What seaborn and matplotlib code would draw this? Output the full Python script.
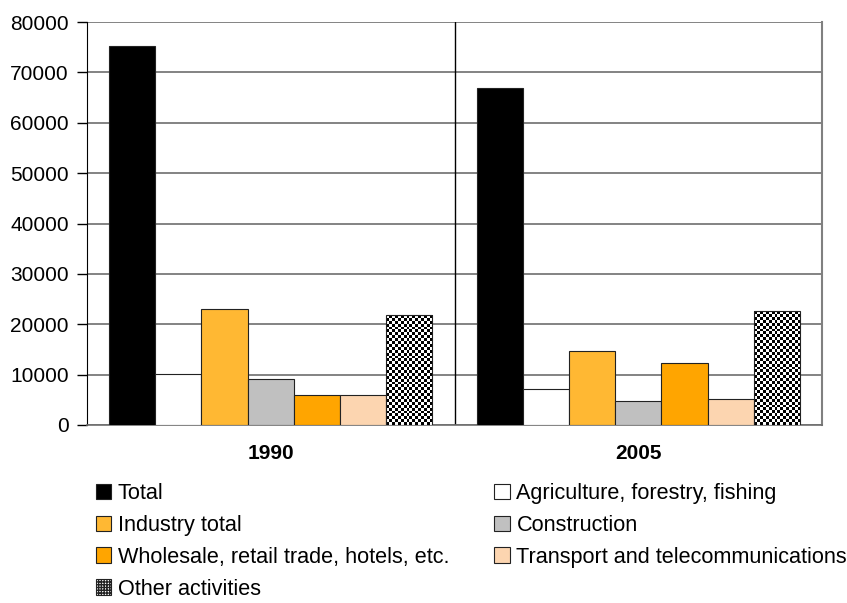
import numpy as np
import pandas as pd
import matplotlib
matplotlib.use("Agg")
import matplotlib.pyplot as plt
import seaborn as sns
from matplotlib.patches import Patch

years = ["1990", "2005"]
series = ["Total", "Agriculture, forestry, fishing", "Industry total", "Construction",
          "Wholesale, retail trade, hotels, etc.", "Transport and telecommunications",
          "Other activities"]
values_1990 = [75200, 10100, 22960, 9130, 5950, 5900, 21760]
values_2005 = [66900, 7200, 14680, 4820, 12360, 5220, 22560]
colors = ["#000000", "#ffffff", "#ffb833", "#c0c0c0", "#ffa500", "#fcd5b0", "#ffffff"]
y_ticks = [0, 10000, 20000, 30000, 40000, 50000, 60000, 70000, 80000]

df = pd.DataFrame({
    "year": years[0:1] * len(series) + years[1:2] * len(series),
    "series": series + series,
    "value": values_1990 + values_2005,
})

sns.set_style("white")
plt.rcParams["font.family"] = ["Liberation Sans", "DejaVu Sans"]
plt.rcParams["text.color"] = "black"
plt.rcParams["xtick.color"] = "black"
plt.rcParams["ytick.color"] = "black"

fig = plt.figure(figsize=(8.47, 6.03), dpi=100)
ax = fig.add_axes([0.1027, 0.2952, 0.9705 - 0.1027, 0.9635 - 0.2952])

sns.barplot(data=df, x="year", y="value", hue="series", hue_order=series,
            palette=dict(zip(series, colors)), saturation=1, width=0.88, gap=0,
            dodge=True, edgecolor="#222222", linewidth=0.8, legend=False, ax=ax,
            zorder=3)

ax.set_xlim(-0.5, 1.5)
ax.set_ylim(0, 80000)
ax.set_yticks(y_ticks)
ax.set_yticklabels([str(t) for t in y_ticks], fontsize=15)
ax.set_xticks([0, 1])
ax.set_xticklabels(years, fontsize=15, fontweight="bold")
ax.tick_params(axis="x", which="major", length=0, pad=14)
ax.set_xticks([-0.5, 0.5, 1.5], minor=True)
ax.tick_params(axis="x", which="minor", length=8, width=1, color="black", direction="out")
ax.tick_params(axis="y", length=7, width=1, color="black", direction="out", left=True, pad=6)
ax.set_xlabel("")
ax.set_ylabel("")
ax.yaxis.grid(True, color="#6e6e6e", linewidth=1.2, zorder=0)
ax.set_axisbelow(True)
ax.axvline(0.5, color="black", linewidth=1, zorder=2)
ax.spines["top"].set_visible(False)
ax.spines["left"].set_color("black")
ax.spines["bottom"].set_color("#6e6e6e")
ax.spines["bottom"].set_linewidth(1.2)
ax.spines["right"].set_color("#808080")
ax.spines["right"].set_linewidth(1.5)

# checkered fill for "Other activities"
other = ax.containers[-1]
fig.canvas.draw()
for p in other.patches:
    x0, y0 = p.get_x(), p.get_y()
    w, h = p.get_width(), p.get_height()
    (px0, py0), (px1, py1) = ax.transData.transform([(x0, y0), (x0 + w, y0 + h)])
    nc = max(1, int(round((px1 - px0) / 2.9)))
    nr = max(1, int(round((py1 - py0) / 2.9)))
    board = (np.add.outer(np.arange(nr), np.arange(nc)) % 2).astype(float)
    im = ax.imshow(board, cmap="gray", extent=(x0, x0 + w, y0, y0 + h),
                   aspect="auto", interpolation="nearest", zorder=3.5, origin="lower")
    im.set_clip_path(p)
    p.set_facecolor("none")
    p.set_zorder(4)
ax.set_xlim(-0.5, 1.5)
ax.set_ylim(0, 80000)

handles = [Patch(facecolor=c, edgecolor="#222222", linewidth=0.8) for c in colors]
handles[-1] = Patch(facecolor="white", edgecolor="#222222", hatch="++++++", linewidth=0.8)
order = [0, 2, 4, 6, 1, 3, 5]
fig.legend([handles[i] for i in order], [series[i] for i in order], ncol=2,
           loc="upper left", bbox_to_anchor=(0.113, 0.199), frameon=False,
           fontsize=15.6, handlelength=0.72, handleheight=0.72, handletextpad=0.3,
           labelspacing=0.5, columnspacing=2.08, borderpad=0, borderaxespad=0)

fig.savefig("out.png", dpi=100)
